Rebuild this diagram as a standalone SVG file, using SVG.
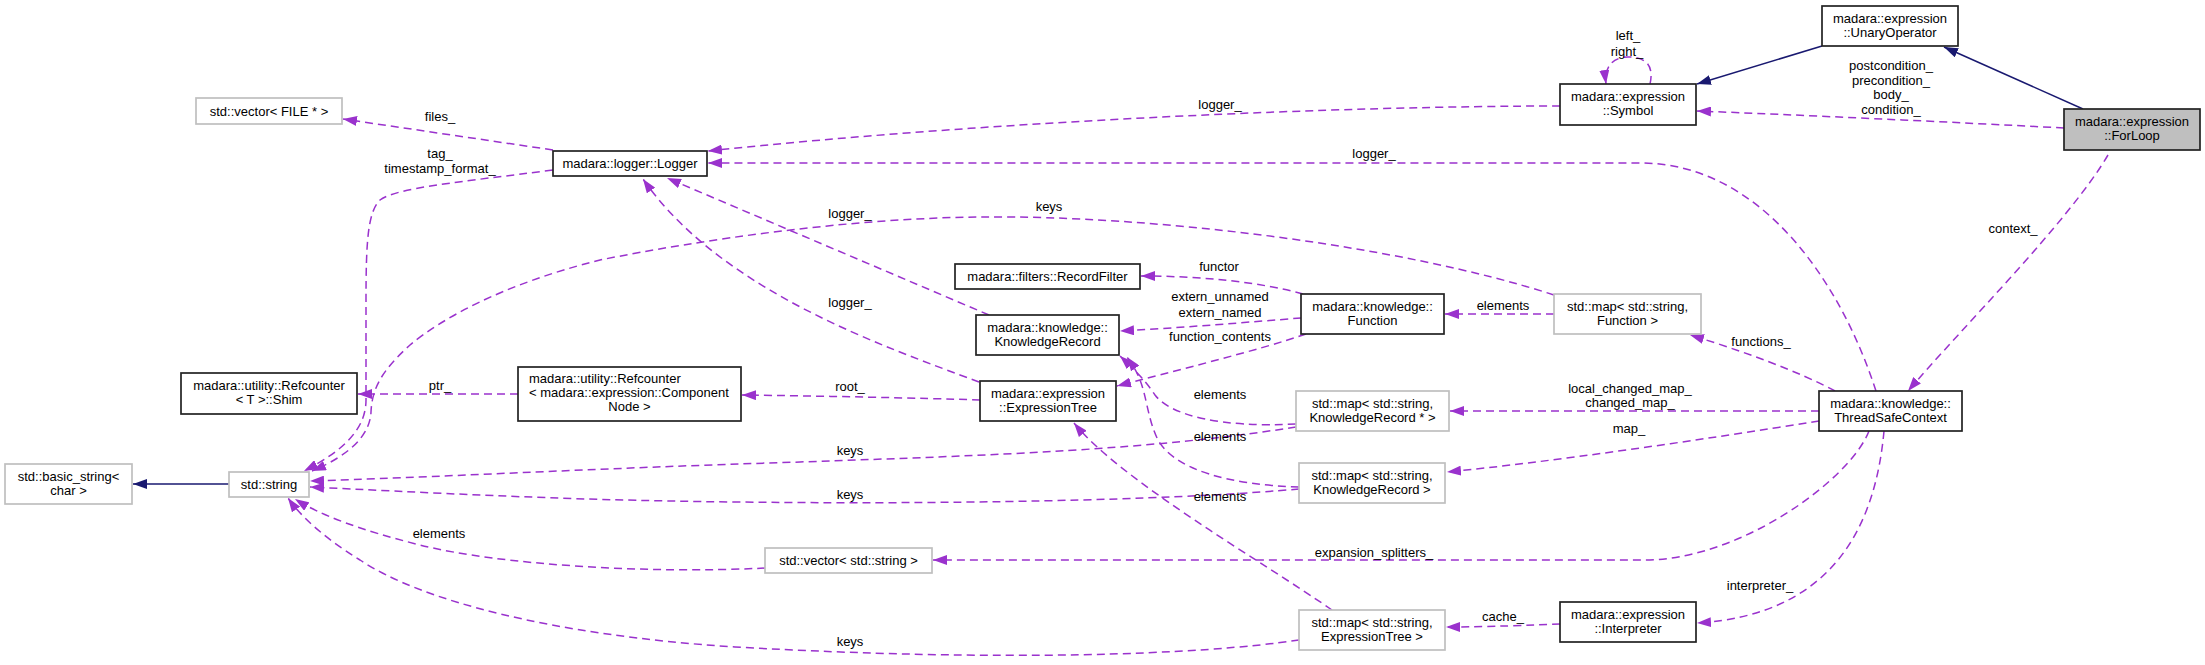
<svg xmlns="http://www.w3.org/2000/svg" width="2205" height="665" viewBox="0 0 2205 665">
<style>
text{font-family:"Liberation Sans",Arial,sans-serif;font-size:13px;fill:#000}
.c{text-anchor:middle}
.n rect{fill:#fff;stroke:#222;stroke-width:1.7}
.g rect{fill:#fff;stroke:#bfbfbf;stroke-width:1.7}
.f rect{fill:#bfbfbf;stroke:#222;stroke-width:1.7}
.e{fill:none;stroke:#9a32cd;stroke-width:1.5;stroke-dasharray:8,5}
.i{fill:none;stroke:#191970;stroke-width:1.5}
</style>
<defs>
<marker id="ap" markerUnits="userSpaceOnUse" markerWidth="14" markerHeight="10" refX="14" refY="5" orient="auto"><path d="M0,0 L14,5 L0,10 z" fill="#9a32cd" stroke="none"/></marker>
<marker id="ab" markerUnits="userSpaceOnUse" markerWidth="14" markerHeight="10" refX="14" refY="5" orient="auto"><path d="M0,0 L14,5 L0,10 z" fill="#191970" stroke="none"/></marker>
</defs>
<rect width="2205" height="665" fill="#fff"/>
<g id="edges">
<path class="i" d="M229,484 L133,484" marker-end="url(#ab)"/>
<path class="i" d="M1822,46 L1697,84" marker-end="url(#ab)"/>
<path class="i" d="M2083,109 L1944,47" marker-end="url(#ab)"/>
<path class="e" d="M553,150 L343,119" marker-end="url(#ap)"/>
<path class="e" d="M553,170 C460,182 395,188 380,200 C368,212 366,240 366,300 L366,400 C366,428 345,450 304,471" marker-end="url(#ap)"/>
<path class="e" d="M1554,295 C1400,245 1150,215 981,217 C850,218 700,240 600,260 C500,285 440,320 410,345 C380,372 372,390 371,412 C370,435 350,455 312,471" marker-end="url(#ap)"/>
<path class="e" d="M1560,106 C1350,106 1000,120 708,151" marker-end="url(#ap)"/>
<path class="e" d="M1876,391 C1840,280 1760,163 1640,163 L708,163" marker-end="url(#ap)"/>
<path class="e" d="M989,315 L667,178" marker-end="url(#ap)"/>
<path class="e" d="M979,382 C880,345 720,290 643,179" marker-end="url(#ap)"/>
<path class="e" d="M2064,128 C1950,122 1800,115 1697,111" marker-end="url(#ap)"/>
<path class="e" d="M1650,84 C1655,62 1642,57 1628,57 C1612,57 1604,68 1606,84" marker-end="url(#ap)"/>
<path class="e" d="M2108,155 C2070,220 1960,330 1908,391" marker-end="url(#ap)"/>
<path class="e" d="M1303,294 C1260,282 1200,276 1141,276" marker-end="url(#ap)"/>
<path class="e" d="M1301,318 C1250,322 1180,328 1120,331" marker-end="url(#ap)"/>
<path class="e" d="M1306,334 C1260,350 1170,372 1117,386" marker-end="url(#ap)"/>
<path class="e" d="M1554,314 L1445,314" marker-end="url(#ap)"/>
<path class="e" d="M1835,391 C1800,372 1740,350 1690,335" marker-end="url(#ap)"/>
<path class="e" d="M1819,411 L1450,411" marker-end="url(#ap)"/>
<path class="e" d="M1819,421 C1700,440 1550,462 1447,472" marker-end="url(#ap)"/>
<path class="e" d="M1869,431 C1850,480 1740,560 1645,560 L933,560" marker-end="url(#ap)"/>
<path class="e" d="M1884,431 C1875,530 1830,615 1697,623" marker-end="url(#ap)"/>
<path class="e" d="M1560,624 C1530,625 1490,627 1446,627" marker-end="url(#ap)"/>
<path class="e" d="M1332,610 C1260,560 1120,480 1074,423" marker-end="url(#ap)"/>
<path class="e" d="M1296,424 C1220,428 1170,415 1155,395 C1145,380 1135,370 1120,356" marker-end="url(#ap)"/>
<path class="e" d="M1299,487 C1230,485 1175,470 1158,440 C1148,420 1147,398 1140,380 C1136,370 1132,364 1127,357" marker-end="url(#ap)"/>
<path class="e" d="M1296,427 C1150,450 1000,455 800,462 C600,468 420,478 310,481" marker-end="url(#ap)"/>
<path class="e" d="M1299,489 C1200,498 1000,505 735,502 C550,500 420,492 310,487" marker-end="url(#ap)"/>
<path class="e" d="M1299,640 C1200,655 1000,662 735,647 C550,635 420,600 360,560 C320,535 300,515 288,498" marker-end="url(#ap)"/>
<path class="e" d="M765,568 C650,574 500,565 420,545 C360,530 320,515 295,499" marker-end="url(#ap)"/>
<path class="e" d="M518,394 L358,394" marker-end="url(#ap)"/>
<path class="e" d="M980,400 C920,398 820,396 742,395" marker-end="url(#ap)"/>
<g class="lbl">
<text class="c" x="440" y="121">files_</text>
<text class="c" x="440" y="158">tag_</text>
<text class="c" x="440" y="173">timestamp_format_</text>
<text class="c" x="1220" y="109">logger_</text>
<text class="c" x="1374" y="158">logger_</text>
<text class="c" x="1049" y="211">keys</text>
<text class="c" x="850" y="218">logger_</text>
<text class="c" x="850" y="307">logger_</text>
<text class="c" x="1219" y="271">functor</text>
<text class="c" x="1220" y="301">extern_unnamed</text>
<text class="c" x="1220" y="317">extern_named</text>
<text class="c" x="1220" y="341">function_contents</text>
<text class="c" x="1628" y="40">left_</text>
<text class="c" x="1627" y="56">right_</text>
<text class="c" x="1891" y="70">postcondition_</text>
<text class="c" x="1891" y="85">precondition_</text>
<text class="c" x="1891" y="99">body_</text>
<text class="c" x="1891" y="114">condition_</text>
<text class="c" x="2013" y="233">context_</text>
<text class="c" x="1503" y="310">elements</text>
<text class="c" x="440" y="390">ptr_</text>
<text class="c" x="439" y="538">elements</text>
<text class="c" x="850" y="391">root_</text>
<text class="c" x="1220" y="399">elements</text>
<text class="c" x="1220" y="441">elements</text>
<text class="c" x="1220" y="501">elements</text>
<text class="c" x="850" y="455">keys</text>
<text class="c" x="850" y="499">keys</text>
<text class="c" x="850" y="646">keys</text>
<text class="c" x="1374" y="557">expansion_splitters_</text>
<text class="c" x="1761" y="346">functions_</text>
<text class="c" x="1630" y="393">local_changed_map_</text>
<text class="c" x="1630" y="407">changed_map_</text>
<text class="c" x="1629" y="433">map_</text>
<text class="c" x="1760" y="590">interpreter_</text>
<text class="c" x="1503" y="621">cache_</text>
</g>
</g>
<g id="n_vecfile" class="g"><rect x="196" y="98" width="146" height="26"/><text class="c" x="269" y="115.5">std::vector&lt; FILE * &gt;</text></g>
<g id="n_logger" class="n"><rect x="553" y="151" width="154" height="25"/><text class="c" x="630" y="168">madara::logger::Logger</text></g>
<g id="n_recordfilter" class="n"><rect x="955" y="264" width="185" height="25"/><text class="c" x="1047.5" y="281">madara::filters::RecordFilter</text></g>
<g id="n_function" class="n"><rect x="1301" y="294" width="143" height="40"/><text class="c" x="1372.5" y="310.5">madara::knowledge::</text><text class="c" x="1372.5" y="325">Function</text></g>
<g id="n_knowledgerecord" class="n"><rect x="976" y="315" width="143" height="40"/><text class="c" x="1047.5" y="331.5">madara::knowledge::</text><text class="c" x="1047.5" y="346">KnowledgeRecord</text></g>
<g id="n_mapfunction" class="g"><rect x="1554" y="294" width="147" height="40"/><text class="c" x="1627.5" y="310.5">std::map&lt; std::string,</text><text class="c" x="1627.5" y="325">Function &gt;</text></g>
<g id="n_unaryop" class="n"><rect x="1822" y="6" width="136" height="40"/><text class="c" x="1890" y="22.5">madara::expression</text><text class="c" x="1890" y="37">::UnaryOperator</text></g>
<g id="n_symbol" class="n"><rect x="1560" y="84" width="136" height="41"/><text class="c" x="1628" y="100.5">madara::expression</text><text class="c" x="1628" y="115">::Symbol</text></g>
<g id="n_forloop" class="f"><rect x="2064" y="109" width="136" height="41"/><text class="c" x="2132" y="125.5">madara::expression</text><text class="c" x="2132" y="140">::ForLoop</text></g>
<g id="n_shim" class="n"><rect x="181" y="373" width="176" height="41"/><text class="c" x="269" y="389.5">madara::utility::Refcounter</text><text class="c" x="269" y="404">&lt; T &gt;::Shim</text></g>
<g id="n_refcomp" class="n"><rect x="518" y="367" width="223" height="54"/><text x="529" y="383">madara::utility::Refcounter</text><text x="529" y="397">&lt; madara::expression::Component</text><text class="c" x="629.5" y="411">Node &gt;</text></g>
<g id="n_exprtree" class="n"><rect x="980" y="381" width="136" height="40"/><text class="c" x="1048" y="397.5">madara::expression</text><text class="c" x="1048" y="412">::ExpressionTree</text></g>
<g id="n_mapkrptr" class="g"><rect x="1296" y="391" width="153" height="40"/><text class="c" x="1372.5" y="407.5">std::map&lt; std::string,</text><text class="c" x="1372.5" y="422">KnowledgeRecord * &gt;</text></g>
<g id="n_tsc" class="n"><rect x="1819" y="391" width="143" height="40"/><text class="c" x="1890.5" y="407.5">madara::knowledge::</text><text class="c" x="1890.5" y="422">ThreadSafeContext</text></g>
<g id="n_basicstring" class="g"><rect x="5" y="464" width="127" height="40"/><text class="c" x="68.5" y="480.5">std::basic_string&lt;</text><text class="c" x="68.5" y="495">char &gt;</text></g>
<g id="n_string" class="g"><rect x="229" y="472" width="80" height="25"/><text class="c" x="269" y="489">std::string</text></g>
<g id="n_mapkr" class="g"><rect x="1299" y="463" width="146" height="40"/><text class="c" x="1372" y="479.5">std::map&lt; std::string,</text><text class="c" x="1372" y="494">KnowledgeRecord &gt;</text></g>
<g id="n_vecstring" class="g"><rect x="765" y="548" width="167" height="25"/><text class="c" x="848.5" y="565">std::vector&lt; std::string &gt;</text></g>
<g id="n_mapet" class="g"><rect x="1299" y="610" width="146" height="40"/><text class="c" x="1372" y="626.5">std::map&lt; std::string,</text><text class="c" x="1372" y="641">ExpressionTree &gt;</text></g>
<g id="n_interpreter" class="n"><rect x="1560" y="602" width="136" height="40"/><text class="c" x="1628" y="618.5">madara::expression</text><text class="c" x="1628" y="633">::Interpreter</text></g>
</svg>
